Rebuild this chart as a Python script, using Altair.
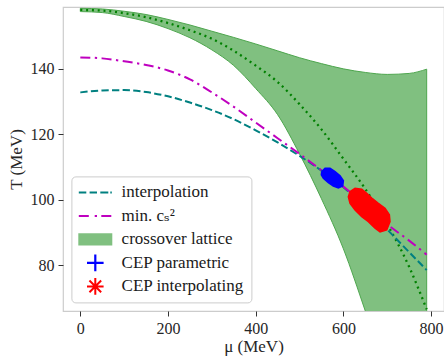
import altair as alt
import pandas as pd

# ---- data ----
mu = [0, 50, 100, 150, 200, 250, 300, 350, 400, 450, 500, 550, 600, 650, 700, 750, 790]
T_interpolation = [132.8, 133.4, 133.5, 132.9, 131.6, 129.7, 127.4, 124.6, 121.2, 117.5, 113.4, 108.9, 103.8, 97.9, 90.9, 84.0, 78.5]
T_min_cs2 = [143.5, 143.2, 142.3, 141.2, 139.5, 136.8, 132.8, 128.4, 123.6, 118.8, 114.0, 109.0, 104.0, 98.5, 92.5, 87.5, 83.2]
T_lattice_mid = [158.0, 157.8, 157.0, 155.8, 154.0, 151.8, 149.2, 145.5, 141.0, 136.0, 129.2, 121.5, 112.5, 103.3, 92.5, 79.5, 66.5]
T_band_hi = [158.5, 158.3, 157.6, 156.6, 155.1, 153.4, 151.5, 149.6, 147.6, 145.5, 143.4, 141.6, 140.0, 138.9, 138.3, 138.6, 139.9]
T_band_lo = [157.5, 157.2, 156.0, 154.5, 152.3, 149.5, 145.8, 141.0, 134.0, 126.0, 114.0, 100.3, 85.0, 66.0, 46.0, 26.0, 8.0]

# CEP clouds (outline of the point clouds)
cep_param_mu = [550.6, 558.2, 569.6, 581.0, 592.4, 600.0, 598.5, 588.5, 577.1, 565.7, 554.3, 549.7, 550.6]
cep_param_T = [108.6, 109.6, 109.6, 108.6, 107.3, 105.8, 104.2, 103.6, 104.2, 105.2, 106.6, 107.6, 108.6]
cep_interp_mu = [615.2, 626.6, 641.9, 653.3, 664.7, 679.8, 695.0, 704.9, 706.4, 698.9, 683.6, 672.2, 657.0, 641.9, 626.6, 615.2, 611.3, 615.2]
cep_interp_T = [102.5, 103.5, 103.2, 102.0, 100.5, 98.9, 97.4, 95.4, 93.3, 90.8, 90.2, 91.3, 93.3, 94.8, 96.9, 98.9, 100.9, 102.5]

labels = ["interpolation", "min. cₛ²", "crossover lattice", "CEP parametric", "CEP interpolating"]
colors = ["#008080", "#bf00bf", "#80c080", "#0000ff", "#ff0000"]
x_ticks = [0, 200, 400, 600, 800]
y_ticks = [80, 100, 120, 140]

# legend glyphs (filled outlines, unit = sqrt(symbolSize)/2 px)
legend_shapes = [
    "M-3.3,-0.2H-1.8V0.2H-3.3Z M-1.14,-0.2H0.34V0.2H-1.14Z M1.0,-0.2H2.6V0.2H1.0Z M3.0,-0.2H3.3V0.2H3.0Z",
    "M-3.3,-0.2H-1.3V0.2H-3.3Z M-0.12,-0.2H0.34V0.2H-0.12Z M1.2,-0.2H3.2V0.2H1.2Z",
    "M-3.4,-1.23H3.4V1.23H-3.4Z",
    "M-1.66,-0.22H1.66V0.22H-1.66Z M-0.22,-1.66H0.22V1.66H-0.22Z",
    "M-1.66,-0.2H1.66V0.2H-1.66Z M-0.2,-1.66H0.2V1.66H-0.2Z "
    "M-1.03,-1.31L1.31,1.03L1.03,1.31L-1.31,-1.03Z M1.31,-1.03L-1.03,1.31L-1.31,1.03L1.03,-1.31Z",
]

FONT = "Liberation Serif, DejaVu Serif, serif"

# ---- tables ----
df_interp = pd.DataFrame({"mu": mu, "T": T_interpolation})
df_min = pd.DataFrame({"mu": mu, "T": T_min_cs2})
df_band = pd.DataFrame({"mu": mu, "lo": T_band_lo, "hi": T_band_hi})
df_mid = pd.DataFrame({"mu": mu, "T": T_lattice_mid})
df_p = pd.DataFrame({"mu": cep_param_mu, "T": cep_param_T, "i": range(len(cep_param_mu))})
df_q = pd.DataFrame({"mu": cep_interp_mu, "T": cep_interp_T, "i": range(len(cep_interp_mu))})
df_leg = pd.DataFrame({"series": labels})

xs = alt.Scale(domain=[-39.5, 829.5], nice=False, zero=False)
ys = alt.Scale(domain=[66, 158.9], nice=False, zero=False)
X = alt.X("mu:Q", scale=xs, title="μ (MeV)", axis=alt.Axis(values=x_ticks))
Y = alt.Y("T:Q", scale=ys, title="T (MeV)", axis=alt.Axis(values=y_ticks))

legend = alt.Legend(
    title=None, orient="none", legendX=8.4, legendY=169.4,
    labelFont=FONT, labelFontSize=17, labelColor="#1a1a1a",
    symbolSize=100, symbolOffset=7.9, labelOffset=17.8, rowPadding=5.5,
    padding=7.5, strokeColor="#cccccc", fillColor="rgba(255,255,255,0.85)",
    cornerRadius=4, symbolOpacity=1, symbolStrokeWidth=0,
)

band = alt.Chart(df_band).mark_area(clip=True, interpolate="monotone", stroke="#4ea64e",
                                     fill=colors[2], strokeWidth=1, opacity=1).encode(
    x=X, y=alt.Y("lo:Q", scale=ys, title="T (MeV)", axis=alt.Axis(values=y_ticks)),
    y2="hi:Q")

mid = alt.Chart(df_mid).mark_line(clip=True, interpolate="monotone", color="#008000",
                                  strokeWidth=2.3, strokeDash=[2, 3.8]).encode(x=X, y=Y)

l_interp = alt.Chart(df_interp).mark_line(clip=True, interpolate="monotone", strokeWidth=2,
                                          color=colors[0], strokeDash=[7.3, 3.3]).encode(x=X, y=Y)
l_min = alt.Chart(df_min).mark_line(clip=True, interpolate="monotone", strokeWidth=2,
                                    color=colors[1], strokeDash=[10, 4.5, 2.3, 4.5]).encode(x=X, y=Y)

c_p = alt.Chart(df_p).mark_line(fill=colors[3], stroke=colors[3], strokeWidth=1.5).encode(
    x=X, y=Y, order="i:Q")
c_q = alt.Chart(df_q).mark_line(fill=colors[4], stroke=colors[4], strokeWidth=1.5).encode(
    x=X, y=Y, order="i:Q")

leg = alt.Chart(df_leg).mark_point(filled=True, opacity=0, size=100).encode(
    x=alt.value(0), y=alt.value(0),
    color=alt.Color("series:N", scale=alt.Scale(domain=labels, range=colors), legend=legend),
    shape=alt.Shape("series:N", scale=alt.Scale(domain=labels, range=legend_shapes), legend=legend),
)

chart = alt.layer(band, mid, l_interp, l_min, c_p, c_q, leg).properties(
    width=381, height=304,
    padding={"left": 63, "top": 7, "right": 0, "bottom": 45},
    autosize=alt.AutoSizeParams(type="none"),
).configure(font=FONT).configure_view(
    stroke="#cccccc", strokeWidth=1.2
).configure_axis(
    domain=False, grid=False, tickSize=5, tickColor="#333333", tickWidth=1,
    labelFont=FONT, labelFontSize=16, labelColor="#262626",
    labelPadding=4, titleFont=FONT, titleFontSize=17,
    titleFontWeight="normal", titleColor="#262626",
).configure_axisX(titlePadding=2).configure_axisY(titlePadding=5)

chart.save("out.html", embed_options={"renderer": "svg", "actions": False})
